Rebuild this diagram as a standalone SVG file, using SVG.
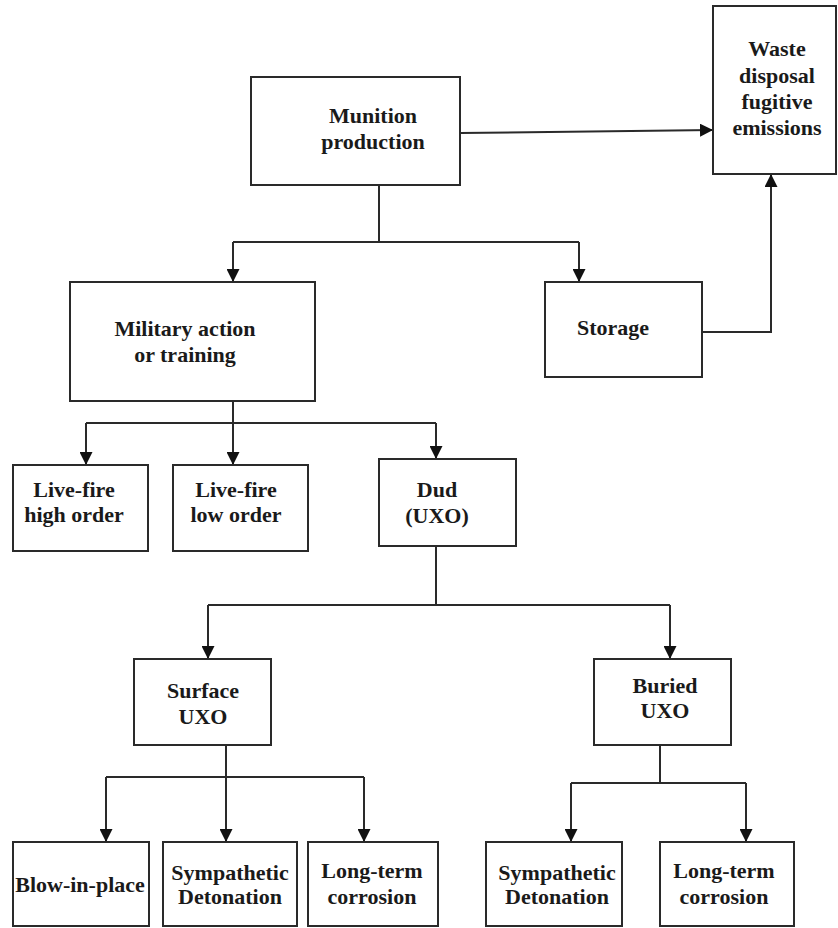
<svg xmlns="http://www.w3.org/2000/svg" width="838" height="928" viewBox="0 0 838 928">
<defs>
<style>
.box{fill:#fff;stroke:#2a2a2a;stroke-width:2}
.lbl{font-family:"Liberation Serif","Times New Roman",serif;font-weight:bold;font-size:22px;fill:#1a1a1a;text-anchor:middle}
.con{fill:none;stroke:#2a2a2a;stroke-width:2}
.arr{fill:none;stroke:#2a2a2a;stroke-width:2;marker-end:url(#ah)}
</style>
<marker id="ah" markerUnits="userSpaceOnUse" markerWidth="13" markerHeight="13" viewBox="0 0 13 13" refX="13" refY="6.5" orient="auto">
<path d="M0,0 L13,6.5 L0,13 z" fill="#111"/>
</marker>
</defs>
<rect width="838" height="928" fill="#fff"/>
<g id="connectors">
<path class="arr" d="M460,133 L713,130"/>
<path class="con" d="M379,185 V242 M233,242 H579"/>
<path class="arr" d="M233,242 V282"/>
<path class="arr" d="M579,242 V282"/>
<path class="arr" d="M702,332 H771 V174"/>
<path class="con" d="M86,423 H436"/>
<path class="arr" d="M233,401 V465"/>
<path class="arr" d="M86,423 V465"/>
<path class="arr" d="M436,423 V459"/>
<path class="con" d="M436,546 V605 M208,605 H670"/>
<path class="arr" d="M208,605 V659"/>
<path class="arr" d="M670,605 V659"/>
<path class="con" d="M106,777 H364"/>
<path class="arr" d="M226,745 V842"/>
<path class="arr" d="M106,777 V842"/>
<path class="arr" d="M364,777 V842"/>
<path class="con" d="M660,745 V783 M571,783 H746"/>
<path class="arr" d="M571,783 V842"/>
<path class="arr" d="M746,783 V842"/>
</g>
<g id="munition">
<rect class="box" x="251" y="77" width="209" height="108"/>
<text class="lbl" x="373" y="123">Munition</text>
<text class="lbl" x="373" y="149">production</text>
</g>
<g id="waste">
<rect class="box" x="713" y="6" width="123" height="168"/>
<text class="lbl" x="777" y="56">Waste</text>
<text class="lbl" x="777" y="83">disposal</text>
<text class="lbl" x="777" y="109">fugitive</text>
<text class="lbl" x="777" y="135">emissions</text>
</g>
<g id="military">
<rect class="box" x="70" y="282" width="245" height="119"/>
<text class="lbl" x="185" y="336">Military action</text>
<text class="lbl" x="185" y="362">or training</text>
</g>
<g id="storage">
<rect class="box" x="545" y="282" width="157" height="95"/>
<text class="lbl" x="613" y="335">Storage</text>
</g>
<g id="livefire-high">
<rect class="box" x="13" y="465" width="135" height="86"/>
<text class="lbl" x="74" y="497">Live-fire</text>
<text class="lbl" x="74" y="522">high order</text>
</g>
<g id="livefire-low">
<rect class="box" x="173" y="465" width="135" height="86"/>
<text class="lbl" x="236" y="497">Live-fire</text>
<text class="lbl" x="236" y="522">low order</text>
</g>
<g id="dud">
<rect class="box" x="379" y="459" width="137" height="87"/>
<text class="lbl" x="437" y="497">Dud</text>
<text class="lbl" x="437" y="523">(UXO)</text>
</g>
<g id="surface">
<rect class="box" x="134" y="659" width="137" height="86"/>
<text class="lbl" x="203" y="698">Surface</text>
<text class="lbl" x="203" y="724">UXO</text>
</g>
<g id="buried">
<rect class="box" x="594" y="659" width="137" height="86"/>
<text class="lbl" x="665" y="693">Buried</text>
<text class="lbl" x="665" y="718">UXO</text>
</g>
<g id="blow">
<rect class="box" x="13" y="842" width="136" height="84"/>
<text class="lbl" x="80" y="892">Blow-in-place</text>
</g>
<g id="symp1">
<rect class="box" x="163" y="842" width="134" height="84"/>
<text class="lbl" x="230" y="880">Sympathetic</text>
<text class="lbl" x="230" y="904">Detonation</text>
</g>
<g id="long1">
<rect class="box" x="308" y="842" width="130" height="84"/>
<text class="lbl" x="372" y="878">Long-term</text>
<text class="lbl" x="372" y="904">corrosion</text>
</g>
<g id="symp2">
<rect class="box" x="486" y="842" width="136" height="84"/>
<text class="lbl" x="557" y="880">Sympathetic</text>
<text class="lbl" x="557" y="904">Detonation</text>
</g>
<g id="long2">
<rect class="box" x="660" y="842" width="134" height="84"/>
<text class="lbl" x="724" y="878">Long-term</text>
<text class="lbl" x="724" y="904">corrosion</text>
</g>
</svg>
